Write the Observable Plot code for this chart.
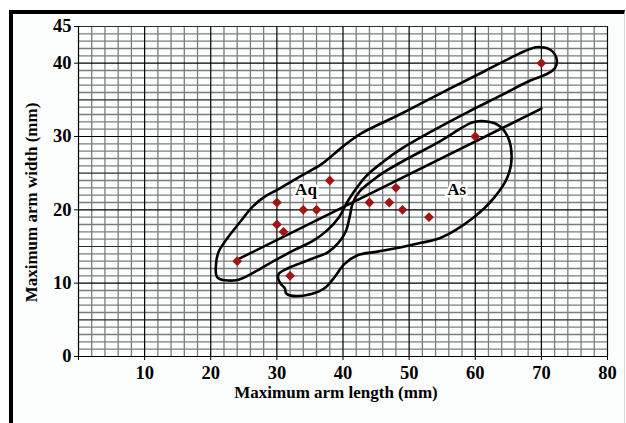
<!DOCTYPE html>
<html>
<head>
<meta charset="utf-8">
<script src="https://cdn.jsdelivr.net/npm/d3@7"></script>
<script src="https://cdn.jsdelivr.net/npm/@observablehq/plot@0.6"></script>
<style>
  html, body { margin: 0; padding: 0; background: #fff; }
  #wrap { position: relative; width: 626px; height: 423px; overflow: hidden; background: #fff; }
  #frame { position: absolute; left: 9px; top: 10px; right: 1px; bottom: -10px;
           border-top: 4px solid #000; border-left: 4px solid #000; border-right: 1px solid #d8d8d8;
           background: #fcfdfd; }
  #chart { position: absolute; left: 0; top: 0; }
  #chart svg text { font-weight: bold; }
  #chart svg g[aria-label="x-axis tick label"], #chart svg g[aria-label="y-axis tick label"] { font-size: 18.5px; }
</style>
</head>
<body>
<div id="wrap"><div id="frame"></div><div id="chart"></div></div>
<script>
// Tick values
const xTicks = [0, 10, 20, 30, 40, 50, 60, 70, 80];
const yTicks = [0, 10, 20, 30, 40, 45];
const xLabel = "Maximum arm length (mm)";
const yLabel = "Maximum arm width (mm)";

// Specimens (diamonds)
const ptX = [24, 30, 30, 31, 34, 36, 38, 32, 44, 47, 48, 49, 53, 60, 70];
const ptY = [13, 21, 18, 17, 20, 20, 24, 11, 21, 21, 23, 20, 19, 30, 40];

// Regression line end points
const regX = [24, 70];
const regY = [13.2, 33.8];

// Aq envelope
const aqX = [21.0, 23.8, 26.6, 29.5, 32.6, 35.5, 37.6, 39.4, 40.6, 41.6, 43.5, 46.0, 48.8, 53.8, 58.8, 63.9, 68.0, 71.0, 72.1, 72.3, 71.4, 69.5, 68.5, 66.4, 61.4, 56.3, 48.8, 42.7, 40.5, 38.5, 36.7, 33.6, 30.2, 28.0, 26.2, 24.4, 22.4, 21.2, 20.8];
const aqY = [10.8, 10.4, 11.5, 13.0, 14.5, 15.8, 17.2, 19.0, 21.0, 22.4, 24.6, 26.5, 28.3, 30.9, 33.3, 35.6, 37.5, 38.6, 39.4, 40.6, 41.8, 42.2, 42.0, 41.2, 38.9, 36.6, 33.1, 30.4, 29.0, 27.5, 26.2, 24.6, 22.8, 21.7, 20.3, 18.3, 16.0, 14.3, 12.6];

// As envelope
const asX = [30.3, 31.6, 33.5, 35.5, 37.7, 39.3, 40.4, 41.0, 41.5, 42.5, 44.3, 46.5, 49.8, 54.8, 58.0, 59.5, 61.0, 63.4, 64.9, 65.5, 64.9, 62.9, 59.8, 54.8, 51.8, 48.8, 45.2, 42.2, 40.2, 38.7, 37.2, 35.1, 32.1, 31.4, 31.2, 30.6, 30.2];
const asY = [11.3, 12.0, 12.7, 13.4, 14.2, 15.5, 17.0, 19.0, 21.0, 22.5, 23.9, 25.3, 27.0, 29.4, 31.2, 31.9, 32.1, 31.6, 30.0, 27.2, 24.5, 21.7, 19.0, 16.2, 15.5, 14.9, 14.3, 13.8, 12.6, 10.8, 9.3, 8.5, 8.3, 8.6, 9.3, 9.9, 10.6];

// Group labels
const grpText = ["Aq", "As"];
const grpX = [34.4, 57.2];
const grpY = [22.7, 22.7];

const pts = ptX.map((x, i) => ({x, y: ptY[i]}));
const reg = regX.map((x, i) => ({x, y: regY[i]}));
const aq = aqX.map((x, i) => ({x, y: aqY[i]}));
const as = asX.map((x, i) => ({x, y: asY[i]}));
const grp = grpText.map((t, i) => ({t, x: grpX[i], y: grpY[i]}));

const minorX = d3.range(0, 81, 2).filter(v => v % 10 !== 0);
const minorY = d3.range(0, 46, 1).filter(v => v % 5 !== 0);
const midY = [5, 15, 25, 35, 45];
const majorX = d3.range(0, 81, 10);
const majorY = d3.range(0, 41, 10);

const font = "'Liberation Serif', 'Times New Roman', serif";

const chart = Plot.plot({
  width: 626,
  height: 423,
  marginLeft: 78,
  marginRight: 19,
  marginTop: 26,
  marginBottom: 67,
  style: {fontFamily: font, fontSize: "18.5px", fontWeight: "bold", background: "transparent", color: "#000", overflow: "visible"},
  x: {domain: [0, 80], label: null},
  y: {domain: [0, 45], label: null},
  marks: [
    Plot.ruleY(minorY, {stroke: "#7c7c7c", strokeWidth: 1.3}),
    Plot.ruleX(minorX, {stroke: "#7c7c7c", strokeWidth: 1.3}),
    Plot.ruleY(midY, {stroke: "#2a2a2a", strokeWidth: 1.2}),
    Plot.ruleX(majorX, {stroke: "#000", strokeWidth: 1.2}),
    Plot.ruleY(majorY, {stroke: "#000", strokeWidth: 1.2}),
    Plot.axisX(xTicks, {tickSize: 4, tickPadding: 5, tickFormat: d => d === 0 ? "" : String(d), label: null,
      fontSize: 18.5, fontWeight: "bold", fontFamily: font, stroke: "#000"}),
    Plot.axisY(yTicks, {tickSize: 4, tickPadding: 3, tickFormat: d => String(d), label: null,
      fontSize: 18.5, fontWeight: "bold", fontFamily: font, stroke: "#000"}),
    Plot.line(aq, {x: "x", y: "y", curve: "catmull-rom-closed", stroke: "#000", strokeWidth: 2.6}),
    Plot.line(as, {x: "x", y: "y", curve: "catmull-rom-closed", stroke: "#000", strokeWidth: 2.6}),
    Plot.line(reg, {x: "x", y: "y", stroke: "#000", strokeWidth: 2.6}),
    Plot.text(grp, {x: "x", y: "y", text: "t", fill: "#000", stroke: "#fff", strokeWidth: 5, fontSize: 17, fontWeight: "bold", fontFamily: font}),
    Plot.dot(pts, {x: "x", y: "y", symbol: "diamond2", r: 4.4, fill: "#a11414", stroke: "none"}),
    Plot.text([xLabel], {frameAnchor: "bottom", textAnchor: "middle", dx: -7, dy: 41, text: d => d, fontSize: 17, fontWeight: "bold", fontFamily: font, fill: "#000"}),
    Plot.text([yLabel], {frameAnchor: "left", textAnchor: "middle", dx: -47, dy: 11, rotate: -90, text: d => d, fontSize: 17, fontWeight: "bold", fontFamily: font, fill: "#000"})
  ]
});
document.getElementById("chart").appendChild(chart);
</script>
</body>
</html>
